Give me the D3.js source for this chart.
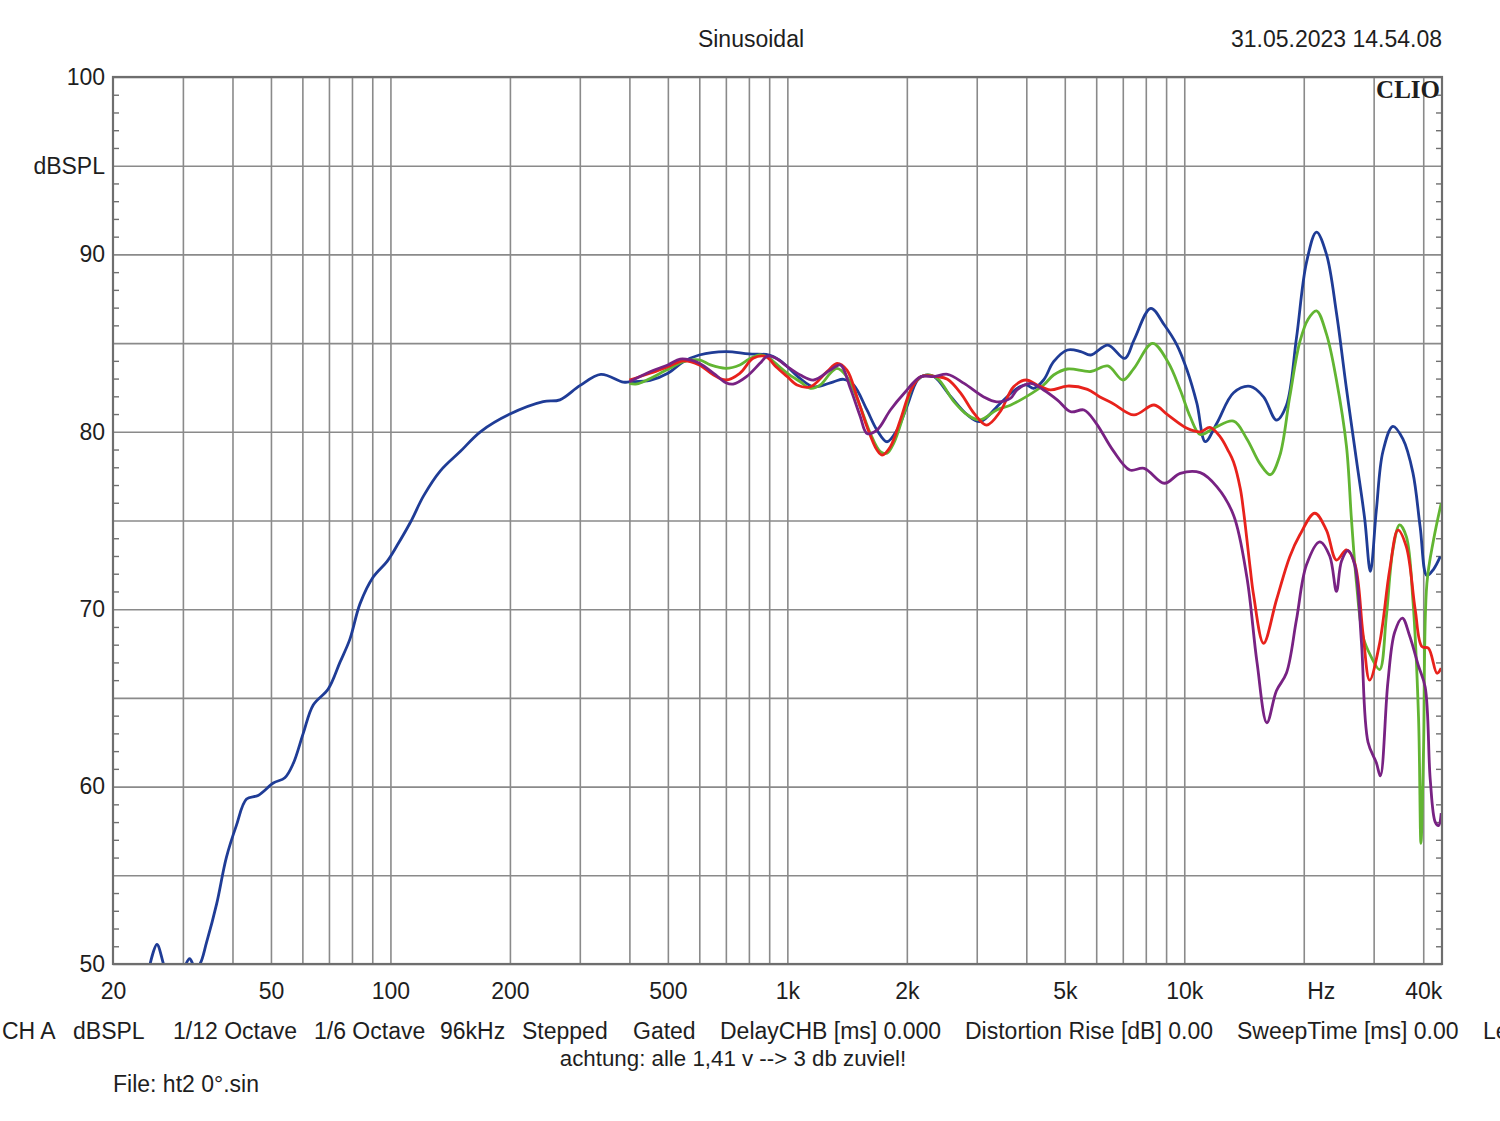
<!DOCTYPE html>
<html>
<head>
<meta charset="utf-8">
<script src="https://cdn.jsdelivr.net/npm/d3@7"></script>
<style>
  html, body { margin: 0; padding: 0; background: #fff; }
  svg text { font-family: "Liberation Sans", Arial, sans-serif; fill: #1e1e1e; }
</style>
</head>
<body>
<svg id="chart" width="1500" height="1121"></svg>
<script>
// ---------------- data ----------------
const xGrid = [30,40,50,60,70,80,90,100,200,300,400,500,600,700,800,900,1000,
               2000,3000,4000,5000,6000,7000,8000,9000,10000,20000,30000,40000];
const xLabels = [[20,"20"],[50,"50"],[100,"100"],[200,"200"],[500,"500"],[1000,"1k"],
                 [2000,"2k"],[5000,"5k"],[10000,"10k"],[20000,"Hz"],[40000,"40k"]];
const yMajor = [50,55,60,65,70,75,80,85,90,95,100];
const yLabels = [[100,"100"],[95,"dBSPL"],[90,"90"],[80,"80"],[70,"70"],[60,"60"],[50,"50"]];

const blueFreq = [24.8,25.8,26.8,27.8,29.3,30.4,31.2,32.2,33.1,34.4,36.5,38.6,40.9,43.4,46.4,50.7,54.2,56.9,60.3,63.9,69.7,74.6,79,83.8,90.4,98.1,104,112.3,121.3,133.6,150.1,168.5,200,242.6,267.3,300,339,386,400,451,500,547,600,700,800,900,954,1000,1078,1165,1307,1386,1469,1587,1682,1783,1890,2000,2128,2232,2343,2582,2843,3058,3436,3790,4000,4173,4422,4686,5079,5486,5814,6418,7081,7470,8235,8910,9585,10160,10760,11300,12090,13310,14660,15840,17070,18090,19170,20320,21530,22810,24180,25620,27150,28480,29440,30470,31660,33540,35540,37670,39300,40860,42460,44140];
const blueDb   = [50.0,51.1,50.0,48.6,49.0,49.9,50.3,49.8,50.0,51.2,53.4,56.0,57.8,59.3,59.5,60.2,60.5,61.3,63.0,64.6,65.5,67.0,68.3,70.3,71.8,72.7,73.6,74.9,76.4,77.8,78.9,80.0,81.0,81.7,81.8,82.6,83.24,82.8,82.82,82.9,83.3,83.95,84.33,84.52,84.39,84.33,84.05,83.67,83.0,82.54,82.82,82.96,82.64,81.23,80.1,79.44,80.1,81.41,82.92,83.2,83.11,81.98,80.95,80.57,81.6,82.45,82.64,82.45,82.92,83.95,84.61,84.52,84.33,84.89,84.14,85.17,86.96,86.02,84.89,83.48,81.6,79.45,80.5,82.2,82.56,81.97,80.66,81.5,85.28,89.55,91.26,90.02,86.7,82.44,78.41,75.1,72.13,75.57,78.89,80.31,79.6,77.7,74.62,71.9,72.25,72.96];

const greenFreq = [400,418,500,547,600,640,700,759,800,853,900,954,1000,1078,1143,1211,1283,1334,1413,1527,1618,1715,1783,1853,1969,2085,2232,2390,2631,2843,3058,3369,3646,4000,4422,4686,5079,5814,6418,7005,7470,8317,9090,9770,10350,10970,11850,13310,14380,15540,16470,17400,18440,19540,20510,21530,22810,24180,25620,26370,27150,28200,29600,31060,32290,33540,34880,36270,37670,38920,39470,40070,40860,42460,44400];
const greenDb   = [82.73,82.7,83.52,83.95,84.05,83.77,83.58,83.77,84.09,84.33,84.15,83.67,83.3,82.82,82.45,82.64,83.3,83.58,83.1,81.41,79.91,78.88,78.79,79.35,81.04,82.73,83.2,83.0,81.69,80.95,80.67,81.23,81.5,81.98,82.64,83.2,83.54,83.4,83.71,82.92,83.58,84.99,83.95,82.36,80.85,79.85,80.19,80.6,79.6,78.18,77.58,78.65,81.97,85.05,86.35,86.82,85.52,82.91,79.2,75.1,71.5,68.46,67.3,66.6,69.58,73.34,74.75,74.09,70.52,63.94,56.8,62.1,71.46,73.9,75.97];

const redFreq = [400,451,500,547,600,652,700,759,820,883,936,1000,1058,1143,1259,1334,1413,1497,1587,1682,1732,1818,1926,2047,2169,2390,2532,2736,2954,3179,3436,3716,4000,4257,4597,5079,5703,6115,6607,7470,8394,9090,10160,11000,11600,12320,12930,13310,13840,14110,14660,14950,15840,17070,18440,19540,21320,22810,24180,25620,26880,28200,29310,31060,32920,34540,36270,38190,39700,41240,43310,44400];
const redDb   = [82.92,83.3,83.67,84.0,83.77,83.2,82.92,83.3,84.14,84.24,83.67,83.11,82.64,82.54,83.39,83.86,83.48,81.98,80.29,78.97,78.69,79.16,80.67,82.36,83.11,83.11,82.96,82.17,81.04,80.38,81.13,82.54,82.92,82.64,82.36,82.58,82.39,81.98,81.6,80.95,81.51,80.95,80.2,80.0,80.25,79.72,78.9,78.3,76.8,75.5,72.3,70.8,68.08,70.52,72.96,74.18,75.41,74.46,72.77,73.34,72.59,68.64,66.0,68.08,72.21,74.46,73.52,69.95,67.89,67.8,66.39,66.67];

const purpleFreq = [400,451,500,537,569,600,652,700,730,789,853,891,936,1000,1078,1165,1283,1360,1441,1527,1587,1682,1818,1969,2169,2343,2532,2788,3117,3369,3646,3790,4093,4422,4793,5176,5590,6000,6607,7290,7921,8910,9770,10970,12090,13310,14380,15250,16150,17070,18090,19170,20320,21940,23250,24180,24890,25860,26880,27940,29040,30470,31190,32590,33890,35440,36960,38920,40460,41660,42890,43720,44400];
const purpleDb   = [82.82,83.39,83.77,84.1,84.05,83.86,83.3,82.77,82.69,83.11,83.86,84.27,84.14,83.67,83.2,82.92,83.48,83.77,82.45,80.85,79.91,80.1,81.23,82.17,83.11,83.11,83.24,82.73,81.98,81.69,81.88,82.36,82.73,82.36,81.79,81.13,81.23,80.48,78.97,77.85,77.94,77.1,77.66,77.7,76.9,75.3,71.8,67.0,63.6,65.4,66.4,69.4,72.5,73.8,73.0,71.0,72.7,73.3,72.5,68.2,62.5,61.35,60.6,65.9,68.7,69.5,68.5,66.8,65.6,60.4,58.0,57.8,58.5];

const seriesNames  = ["blue","green","red","purple"];
const seriesColors = ["#1f3c96","#62b532","#e8221c","#782283"];
const seriesFreqs  = [blueFreq, greenFreq, redFreq, purpleFreq];
const seriesDbs    = [blueDb, greenDb, redDb, purpleDb];

const title = "Sinusoidal";
const dateText = "31.05.2023 14.54.08";
const infoItems = [["CH A",2],["dBSPL",73],["1/12 Octave",173],["1/6 Octave",314],["96kHz",440],
  ["Stepped",522],["Gated",633],["DelayCHB [ms] 0.000",720],["Distortion Rise [dB] 0.00",965],
  ["SweepTime [ms] 0.00",1237],["Le",1483]];
const noteText = "achtung: alle 1,41 v --> 3 db zuviel!";
const fileText = "File: ht2 0°.sin";

// ---------------- layout ----------------
const L = 113, R = 1442, T = 77, B = 964;
const svg = d3.select("#chart");
const x = d3.scaleLog().domain([20, 44600]).range([L, R]);
const y = d3.scaleLinear().domain([50, 100]).range([B, T]);
const FS = 23;

// grid: vertical
const gx = svg.append("g").attr("transform", `translate(0,${B})`)
  .call(d3.axisBottom(x).tickValues(xGrid).tickSize(-(B - T)).tickFormat(""));
gx.select(".domain").remove();
gx.selectAll("line").attr("stroke", "#8a8a8a").attr("stroke-width", 1.6);

// grid: horizontal
const gy = svg.append("g").attr("transform", `translate(${L},0)`)
  .call(d3.axisLeft(y).tickValues(yMajor).tickSize(-(R - L)).tickFormat(""));
gy.select(".domain").remove();
gy.selectAll("line").attr("stroke", "#8a8a8a").attr("stroke-width", 1.6);

// minor y ticks left and right
const minor = d3.range(50, 101, 1).filter(v => v % 5 !== 0);
const ml = svg.append("g").attr("transform", `translate(${L},0)`)
  .call(d3.axisLeft(y).tickValues(minor).tickSize(-6).tickFormat(""));
ml.select(".domain").remove();
ml.selectAll("line").attr("stroke", "#707070").attr("stroke-width", 1.4);
const mr = svg.append("g").attr("transform", `translate(${R},0)`)
  .call(d3.axisRight(y).tickValues(minor).tickSize(-6).tickFormat(""));
mr.select(".domain").remove();
mr.selectAll("line").attr("stroke", "#707070").attr("stroke-width", 1.4);

// y labels
const yl = svg.append("g").attr("transform", `translate(${L},0)`)
  .call(d3.axisLeft(y).tickValues(yLabels.map(d => d[0])).tickSize(0).tickPadding(8)
        .tickFormat(v => (yLabels.find(d => d[0] === v) || [0, ""])[1]));
yl.select(".domain").remove();
yl.selectAll("text").style("font-size", FS + "px").attr("fill", "#1e1e1e")
  .style("font-family", "'Liberation Sans', Arial, sans-serif");

// x labels
const xl = svg.append("g").attr("transform", `translate(0,${B})`)
  .call(d3.axisBottom(x).tickValues(xLabels.map(d => d[0])).tickSize(0).tickPadding(19)
        .tickFormat(v => (xLabels.find(d => d[0] === v) || [0, ""])[1]));
xl.select(".domain").remove();
xl.selectAll("text").style("font-size", FS + "px").attr("fill", "#1e1e1e")
  .style("font-family", "'Liberation Sans', Arial, sans-serif")
  .attr("dx", v => v === 20000 ? 17 : 0);

// clip
svg.append("defs").append("clipPath").attr("id", "plotClip")
  .append("rect").attr("x", L).attr("y", T).attr("width", R - L).attr("height", B - T);

// curves
const line = d3.line()
  .x(d => x(d[0])).y(d => y(d[1]))
  .curve(d3.curveCatmullRom.alpha(0.5));
const curves = svg.append("g").attr("clip-path", "url(#plotClip)");
seriesNames.forEach((name, i) => {
  const pts = seriesFreqs[i].map((f, k) => [f, seriesDbs[i][k]]);
  curves.append("path").datum(pts)
    .attr("class", "series-" + name)
    .attr("fill", "none")
    .attr("stroke", seriesColors[i])
    .attr("stroke-width", 2.8)
    .attr("stroke-linejoin", "round")
    .attr("d", line);
});

// frame
svg.append("rect").attr("x", L).attr("y", T).attr("width", R - L).attr("height", B - T)
  .attr("fill", "none").attr("stroke", "#6e6e6e").attr("stroke-width", 2.2);

// CLIO logo
svg.append("text").attr("x", R - 2).attr("y", 98).attr("text-anchor", "end")
  .style("font-family", "'Liberation Serif', 'Times New Roman', serif")
  .style("font-weight", "bold").style("font-size", "25px").attr("fill", "#000")
  .text("CLIO");

// title and date
svg.append("text").attr("x", 751).attr("y", 47).attr("text-anchor", "middle")
  .style("font-size", FS + "px").text(title);
svg.append("text").attr("x", R).attr("y", 47).attr("text-anchor", "end")
  .style("font-size", FS + "px").text(dateText);

// info line
svg.append("g").selectAll("text").data(infoItems).join("text")
  .attr("x", d => d[1]).attr("y", 1039)
  .style("font-size", FS + "px").text(d => d[0]);
svg.append("text").attr("x", 733).attr("y", 1066).attr("text-anchor", "middle")
  .style("font-size", "22.3px").text(noteText);
svg.append("text").attr("x", 113).attr("y", 1092)
  .style("font-size", FS + "px").text(fileText);
</script>
</body>
</html>
